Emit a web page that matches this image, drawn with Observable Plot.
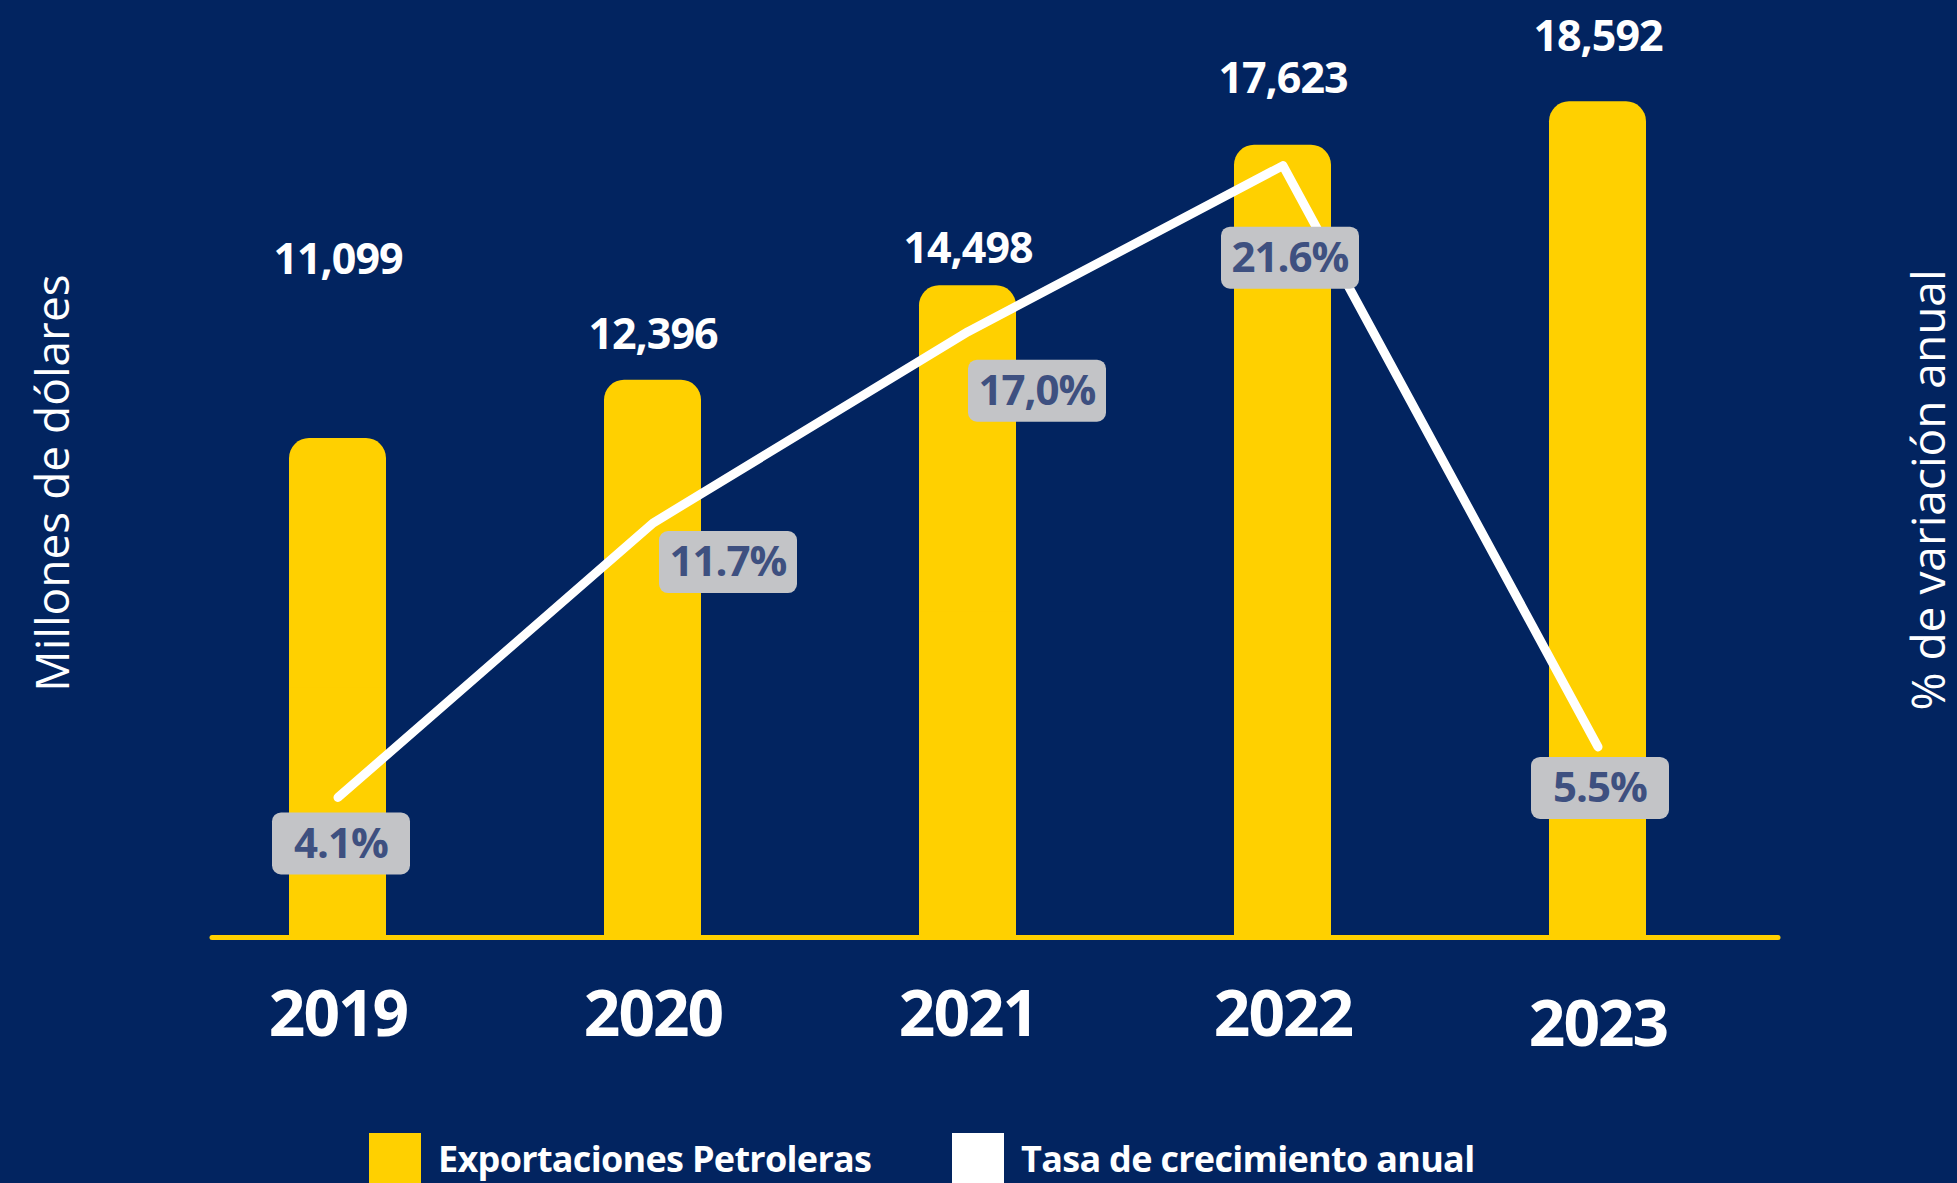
<!DOCTYPE html>
<html><head><meta charset="utf-8">
<script src="https://cdn.jsdelivr.net/npm/d3@7"></script>
<script src="https://cdn.jsdelivr.net/npm/@observablehq/plot@0.6"></script>
<style>
html,body{margin:0;padding:0;background:#022460;width:1957px;height:1183px;overflow:hidden;font-family:"Open Sans",sans-serif;}
#chart svg{display:block}
.yearlbl text{letter-spacing:-2px}
.vallbl text{letter-spacing:-1px}
.pctlbl text{letter-spacing:-1px}
#legend{position:relative;height:63px;}
.item{position:absolute;top:13px;display:flex;align-items:center;gap:17px;color:#fff;font-weight:700;font-size:36px;line-height:52px;white-space:nowrap;}
.item span{letter-spacing:-0.7px}
.sw{width:52px;height:52px;flex:none;}
</style></head><body>
<div id="chart"></div>
<div id="legend"></div>
<script>
// ---- data ----
const years = ["2019", "2020", "2021", "2022", "2023"];
const exportsValues = [11099, 12396, 14498, 17623, 18592];
const growth = [4.1, 11.7, 17.0, 21.6, 5.5];
const growthLabels = ["4.1%", "11.7%", "17,0%", "21.6%", "5.5%"];
const seriesNames = ["Exportaciones Petroleras", "Tasa de crecimiento anual"];
const yTitle = "Millones de dólares";
const y2Title = "% de variación anual";

// ---- styling / layout ----
const NAVY = "#022460", YELLOW = "#FFD000", BOX = "#C3C4C7", BOXTEXT = "#3E5080";
const valueLabelDy = [-178, -45, -37, -66, -65];
const pctDx = [3, 75, 69, 7, 2];
const pctDy = [46, 39, 59, 92, 41];
const yearDy = [78, 78, 78, 78, 88];

const data = years.map((y, i) => ({year: y, value: exportsValues[i], pct: growth[i], pctLabel: growthLabels[i]}));

// secondary (percent) axis mapped into the primary value domain
const pctScale = d3.scaleLinear().domain([0.22, 25.62]).range([0, 20400]);

const roundRect = {
  draw(ctx) {
    const w = 69, h = 31, r = 9;
    ctx.moveTo(-w + r, -h);
    ctx.lineTo(w - r, -h); ctx.arcTo(w, -h, w, -h + r, r);
    ctx.lineTo(w, h - r); ctx.arcTo(w, h, w - r, h, r);
    ctx.lineTo(-w + r, h); ctx.arcTo(-w, h, -w, h - r, r);
    ctx.lineTo(-w, -h + r); ctx.arcTo(-w, -h, -w + r, -h, r);
    ctx.closePath();
  }
};

const marks = [
  Plot.barY(data, {x: "year", y: "value", fill: YELLOW, rx: 20}),
  Plot.barY(data, {x: "year", y1: 0, y2: d => d.value / 2, fill: YELLOW}),
  Plot.ruleY([0], {stroke: YELLOW, strokeWidth: 5, strokeLinecap: "round"}),
  Plot.line(data, {x: "year", y: d => pctScale(d.pct), stroke: "white", strokeWidth: 9, strokeLinecap: "round", strokeLinejoin: "round"})
];
data.forEach((d, i) => {
  marks.push(Plot.dot([d], {x: "year", y: v => pctScale(v.pct), symbol: roundRect, fill: BOX, stroke: null, dx: pctDx[i], dy: pctDy[i]}));
  marks.push(Plot.text([d], {x: "year", y: v => pctScale(v.pct), text: "pctLabel", fill: BOXTEXT, fontSize: 42, fontWeight: 700, fontFamily: "Open Sans", lineAnchor: "middle", dx: pctDx[i], dy: pctDy[i] + 1, className: "pctlbl"}));
  marks.push(Plot.text([d], {x: "year", y: "value", text: v => d3.format(",")(v.value), fill: "white", fontSize: 43, fontWeight: 700, fontFamily: "Open Sans", lineAnchor: "middle", dy: valueLabelDy[i], className: "vallbl"}));
  marks.push(Plot.text([d], {x: "year", text: "year", frameAnchor: "bottom", fill: "white", fontSize: 64, fontWeight: 700, fontFamily: "Open Sans", lineAnchor: "middle", dy: yearDy[i], className: "yearlbl"}));
});
marks.push(Plot.text([yTitle], {frameAnchor: "left", text: d => d, rotate: -90, textAnchor: "middle", fill: "white", fontSize: 46, fontWeight: 500, fontFamily: "Open Sans", lineAnchor: "middle", dx: -158, dy: 4}));
marks.push(Plot.text([y2Title], {frameAnchor: "right", text: d => d, rotate: -90, textAnchor: "middle", fill: "white", fontSize: 46, fontWeight: 500, fontFamily: "Open Sans", lineAnchor: "middle", dx: 152, dy: 11}));

const chart = Plot.plot({
  width: 1957,
  height: 1120,
  marginLeft: 212,
  marginRight: 179,
  marginTop: 20,
  marginBottom: 183,
  style: {background: "transparent", color: "white", overflow: "visible"},
  x: {domain: years, paddingInner: 0.6926, paddingOuter: 0.328, align: 0.37, axis: null},
  y: {domain: [0, 20400], axis: null},
  marks
});
document.getElementById("chart").appendChild(chart);

// legend
const legend = document.getElementById("legend");
const legendColors = [YELLOW, "#FFFFFF"];
const legendLeft = [369, 952];
seriesNames.forEach((name, i) => {
  const item = document.createElement("div");
  item.className = "item";
  item.style.left = legendLeft[i] + "px";
  const sw = document.createElement("div");
  sw.className = "sw";
  sw.style.background = legendColors[i];
  const lab = document.createElement("span");
  lab.textContent = name;
  item.appendChild(sw);
  item.appendChild(lab);
  legend.appendChild(item);
});
</script>
</body></html>
